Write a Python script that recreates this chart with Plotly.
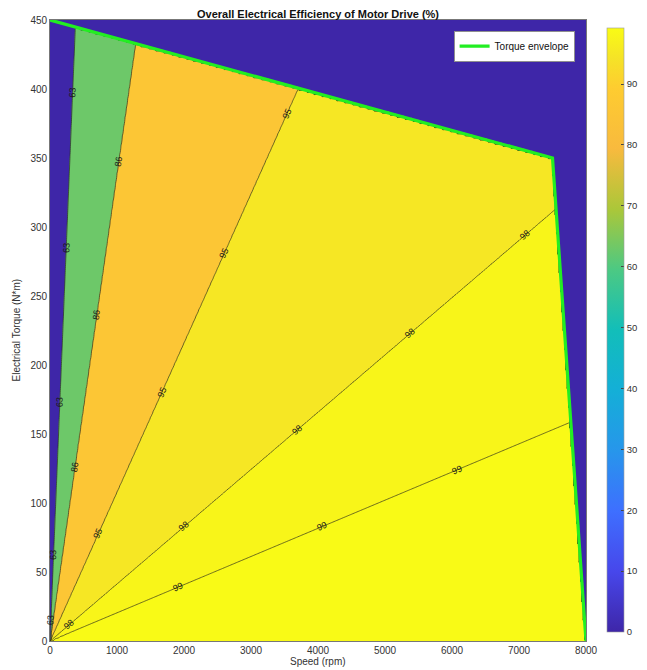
import numpy as np
import plotly.graph_objects as go

# ---------------- data ----------------
# Torque envelope (speed in rpm, torque in N*m)
ENVELOPE_SPEED = [0, 7500, 8000]
ENVELOPE_TORQUE = [450, 350, 0]

# Labelled efficiency contour levels (%) and the speed/torque ratio
# (rpm per N*m) along which each straight iso-line runs from the origin
EFF_LEVELS = [63, 86, 95, 98, 99]
LEVEL_RATIO = [0.85, 2.95, 9.25, 24.1, 49.0]
EFF_MAX = 99.2  # top of colour bar

# torque values at which each contour line carries its label
LABEL_TORQUE = {
    63: [15, 62, 173, 285, 397],
    86: [126, 236, 347],
    95: [78, 180, 281, 382],
    98: [12, 83, 153, 223, 294],
    99: [39, 83, 124],
}

X_TICKS = list(range(0, 8001, 1000))
Y_TICKS = list(range(0, 451, 50))
CBAR_TICKS = list(range(0, 91, 10))

# MATLAB parula-like colour scale
PARULA = [
    [0.00, (62, 38, 168)],
    [0.10, (71, 71, 235)],
    [0.20, (62, 111, 255)],
    [0.30, (39, 150, 235)],
    [0.40, (20, 175, 215)],
    [0.50, (18, 190, 185)],
    [0.60, (76, 201, 131)],
    [0.70, (171, 199, 57)],
    [0.80, (248, 186, 62)],
    [0.90, (254, 204, 48)],
    [0.95, (245, 227, 39)],
    [1.00, (249, 251, 21)],
]


def parula_at(v):
    pos = [p for p, _ in PARULA]
    rgb = [np.interp(v, pos, [c[k] for _, c in PARULA]) for k in range(3)]
    return "rgb(%d,%d,%d)" % tuple(int(round(c)) for c in rgb)


parula_scale = [[p, "rgb(%d,%d,%d)" % c] for p, c in PARULA]

# ---------------- layout geometry (page is offset 8px by body margin) ----------------
FIG_W, FIG_H = 639, 662
M_L, M_T = 42, 12
PLOT_W, PLOT_H = 536, 621
M_R = FIG_W - M_L - PLOT_W
M_B = FIG_H - M_T - PLOT_H

# ---------------- efficiency field on a grid ----------------
xs = np.linspace(0, 8000, 401)
ys = np.linspace(0, 450, 301)
X, Y = np.meshgrid(xs, ys)
lx = np.log(np.array(LEVEL_RATIO))
lv = np.array(EFF_LEVELS, dtype=float)
with np.errstate(divide="ignore", invalid="ignore"):
    lr = np.log(X / Y)
    eff = np.interp(lr, lx, lv)
    lo = lr < lx[0]
    eff[lo] = lv[0] + (lr[lo] - lx[0]) * (lv[1] - lv[0]) / (lx[1] - lx[0])
    hi = lr > lx[-1]
    eff[hi] = lv[-1] + (lr[hi] - lx[-1]) * (lv[-1] - lv[-2]) / (lx[-1] - lx[-2])
eff = np.nan_to_num(eff, nan=EFF_MAX, posinf=EFF_MAX, neginf=0.0)
eff = np.clip(eff, 0, EFF_MAX)
inside = Y <= np.interp(X, ENVELOPE_SPEED, ENVELOPE_TORQUE) + 1e-9
eff[~inside] = 0.0
eff = eff.astype(np.float32)

# band index field for the filled regions
band_edges = [0.0] + EFF_LEVELS + [100.0]
zband = np.interp(eff, band_edges, np.arange(len(band_edges))).astype(np.float32)
nb = len(EFF_LEVELS)
band_colors = [parula_at(0.0)] + [parula_at(l / EFF_MAX) for l in EFF_LEVELS]
fill_scale = []
for i, c in enumerate(band_colors):
    fill_scale.append([max(0.0, (i - 0.5) / nb), c])
    fill_scale.append([min(1.0, (i + 0.5) / nb), c])

fig = go.Figure()
fig.add_trace(go.Contour(
    x=xs, y=ys, z=zband,
    autocontour=False,
    contours=dict(start=1, end=nb, size=1, coloring="fill", showlines=False),
    colorscale=fill_scale, showscale=False, line=dict(width=0),
    hoverinfo="skip", showlegend=False,
))

for lev in EFF_LEVELS:
    fig.add_trace(go.Contour(
        x=xs, y=ys, z=eff,
        autocontour=False,
        contours=dict(start=lev, end=lev, size=1, coloring="none",
                      showlabels=False),
        line=dict(color="rgba(40,40,30,0.85)", width=0.8),
        showscale=False, hoverinfo="skip", showlegend=False,
    ))

fig.add_trace(go.Scatter(
    x=ENVELOPE_SPEED, y=ENVELOPE_TORQUE, mode="lines",
    line=dict(color="#22EE22", width=3.2),
    name="Torque envelope", showlegend=True, hoverinfo="skip",
))

# stand-alone colour bar
fig.add_trace(go.Scatter(
    x=[None], y=[None], mode="markers", showlegend=False, hoverinfo="skip",
    marker=dict(color=[0], cmin=0, cmax=EFF_MAX, colorscale=parula_scale,
                showscale=True,
                colorbar=dict(x=(607 - 50) / PLOT_W, xanchor="left", xpad=0,
                              y=(641 - 330) / PLOT_H, yanchor="middle",
                              len=604 / PLOT_H, lenmode="fraction",
                              thickness=17, thicknessmode="pixels",
                              outlinecolor="#9a9a9a", outlinewidth=0.6,
                              tickvals=CBAR_TICKS, ticks="inside", ticklen=3,
                              tickcolor="#444", ypad=0,
                              tickfont=dict(size=9.5, color="#333",
                                            family="Liberation Sans, Arial"))),
))

# contour labels placed along each iso-line, rotated with it
px_per_x = PLOT_W / 8000.0
px_per_y = PLOT_H / 450.0
label_font = dict(size=9, color="#1a1a1a", family="Liberation Sans, Arial")
annotations = []
for lev, ratio in zip(EFF_LEVELS, LEVEL_RATIO):
    ang = np.degrees(np.arctan2(px_per_y, ratio * px_per_x))
    for t in LABEL_TORQUE[lev]:
        annotations.append(dict(
            x=ratio * t, y=t, xref="x", yref="y", text=str(lev),
            textangle=-ang, showarrow=False, xanchor="center",
            yanchor="middle", font=label_font))

axis_font = dict(size=10, color="#333", family="Liberation Sans, Arial")
annotations += [
    dict(text="Speed (rpm)", xref="paper", yref="paper",
         x=0.5, y=(641 - 661) / PLOT_H, xanchor="center", yanchor="middle",
         showarrow=False, font=axis_font),
    dict(text="Electrical Torque (N*m)", xref="paper", yref="paper",
         x=(16 - 50) / PLOT_W, y=0.5, xanchor="center", yanchor="middle",
         textangle=-90, showarrow=False, font=axis_font),
]

fig.update_layout(
    width=FIG_W, height=FIG_H,
    margin=dict(l=M_L, r=M_R, t=M_T, b=M_B, autoexpand=False),
    paper_bgcolor="white", plot_bgcolor="white",
    title=dict(text="<b>Overall Electrical Efficiency of Motor Drive (%)</b>",
               x=0.5, xref="paper", xanchor="center",
               y=1 - 6.5 / FIG_H, yref="container", yanchor="middle",
               font=dict(size=11, color="#111", family="Liberation Sans, Arial")),
    xaxis=dict(range=[0, 8000], tickvals=X_TICKS, showgrid=False, zeroline=False,
               showline=True, linecolor="#777", linewidth=0.6, mirror=True,
               ticks="", tickfont=axis_font, automargin=False),
    yaxis=dict(range=[0, 450], tickvals=Y_TICKS, showgrid=False, zeroline=False,
               showline=True, linecolor="#777", linewidth=0.6, mirror=True,
               ticks="", tickfont=axis_font, automargin=False),
    legend=dict(x=(575 - 50) / PLOT_W, xanchor="right", y=(641 - 31) / PLOT_H,
                yanchor="top", bgcolor="white", bordercolor="#444",
                borderwidth=0.6, font=dict(size=10, color="#111",
                                           family="Liberation Sans, Arial"),
                tracegroupgap=0),
    annotations=annotations,
)

fig.write_html("out.html")
